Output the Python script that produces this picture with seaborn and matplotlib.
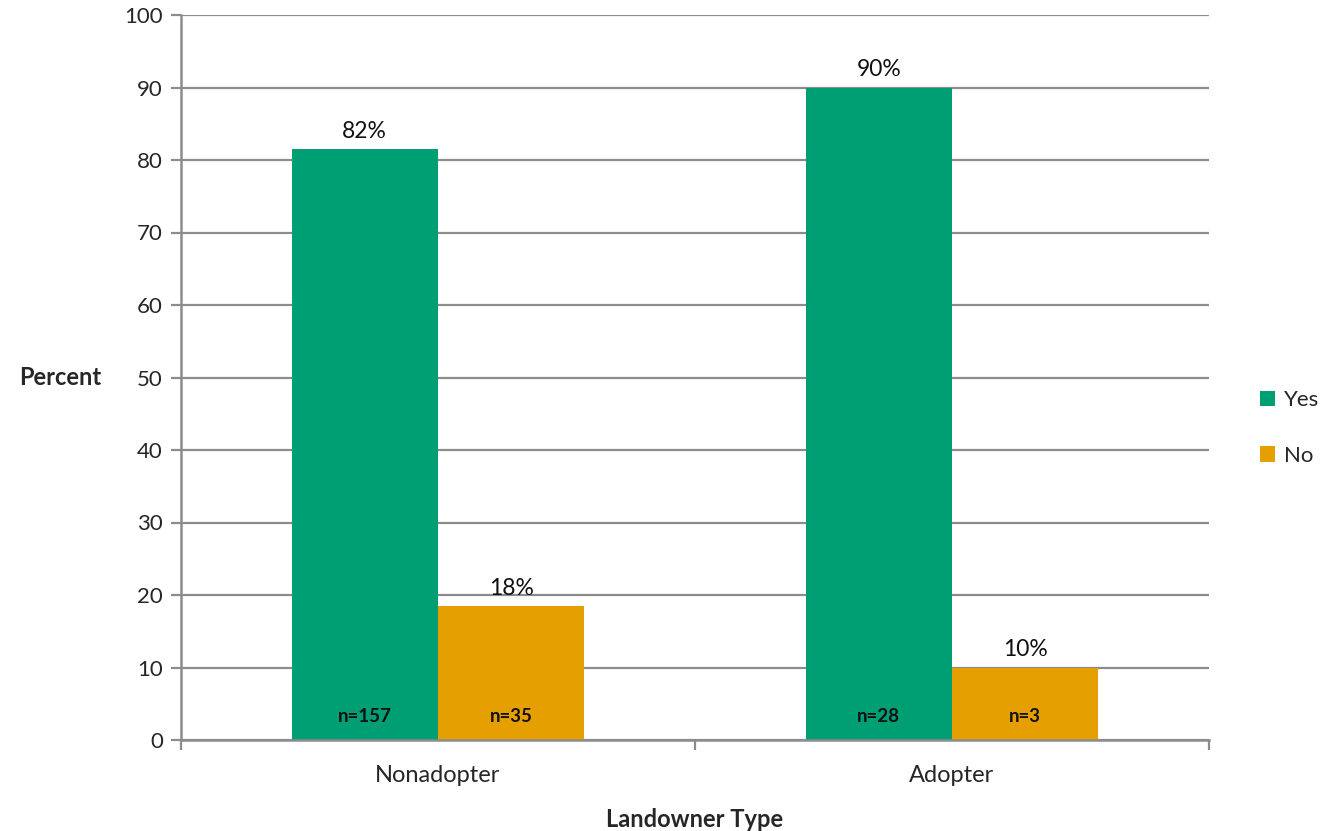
import pandas as pd
import seaborn as sns
import matplotlib.pyplot as plt
from matplotlib.ticker import FixedLocator

# Data
landowner_types = ["Nonadopter", "Adopter"]
responses = ["Yes", "No"]
yes_percent = [81.5, 90.0]
no_percent = [18.5, 10.0]
yes_labels = ["82%", "90%"]
no_labels = ["18%", "10%"]
yes_n = ["n=157", "n=28"]
no_n = ["n=35", "n=3"]

df = pd.DataFrame({
    "Landowner Type": landowner_types * 2,
    "Response": ["Yes"] * 2 + ["No"] * 2,
    "Percent": yes_percent + no_percent,
    "label": yes_labels + no_labels,
    "n": yes_n + no_n,
})

sns.set_style("white")
plt.rcParams["font.family"] = ["Lato", "DejaVu Sans"]

fig = plt.figure(figsize=(13.23, 8.31), dpi=100)
ax = fig.add_axes([181 / 1323, 91 / 831, 1028 / 1323, 725 / 831])

grid_color = "#8c8c8c"
ax.set_axisbelow(True)
ax.yaxis.grid(True, color=grid_color, linewidth=1.6)

sns.barplot(data=df, x="Landowner Type", y="Percent", hue="Response",
            hue_order=responses, order=landowner_types,
            palette={"Yes": "#009e73", "No": "#e69f00"},
            width=0.57, saturation=1, linewidth=0, ax=ax, legend=True)

# labels on bars
for container, resp in zip(ax.containers, responses):
    sub = df[df["Response"] == resp].set_index("Landowner Type").loc[landowner_types]
    for bar, lab, n in zip(container, sub["label"], sub["n"]):
        cx = bar.get_x() + bar.get_width() / 2
        ax.text(cx, bar.get_height() + 1.0, lab, ha="center", va="bottom",
                fontsize=16.5, color="#111111")
        ax.text(cx, 3.2, n, ha="center", va="center", fontsize=13.5,
                fontweight="bold", color="#111111")

ax.set_ylim(0, 100)
ax.set_xlim(-0.5, 1.5)
ax.set_yticks(range(0, 101, 10))
ax.tick_params(axis="y", labelsize=16, length=7, width=1.6, color=grid_color,
               left=True, pad=6)
ax.tick_params(axis="x", which="major", labelsize=17, length=0, pad=18)
ax.xaxis.set_minor_locator(FixedLocator([-0.5, 0.5, 1.5]))
ax.tick_params(axis="x", which="minor", length=7, width=1.6, color=grid_color,
               bottom=True)

for side in ["top", "right"]:
    ax.spines[side].set_visible(False)
for side in ["left", "bottom"]:
    ax.spines[side].set_color(grid_color)
    ax.spines[side].set_linewidth(1.8)

ax.set_xlabel("Landowner Type", fontsize=17, fontweight="bold", labelpad=16)
ax.set_ylabel("Percent", fontsize=17, fontweight="bold", rotation=0,
              va="center", ha="center")
ax.yaxis.set_label_coords(-0.118, 0.5)

leg = ax.legend(loc="center left", bbox_to_anchor=(1.03, 0.43), frameon=False,
                fontsize=16, handlelength=0.7, handleheight=0.7,
                handletextpad=0.4, labelspacing=1.6)

fig.savefig("out.png", dpi=100)
